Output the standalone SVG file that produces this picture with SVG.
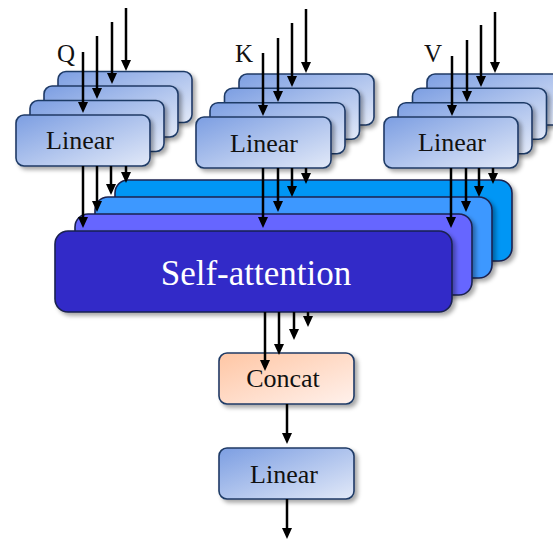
<svg xmlns="http://www.w3.org/2000/svg" width="553" height="540" viewBox="0 0 553 540">
<defs>
<linearGradient id="gLin" x1="0" y1="0" x2="1" y2="1">
<stop offset="0" stop-color="#7c9ee2"/>
<stop offset="1" stop-color="#e2e9f8"/>
</linearGradient>
<linearGradient id="gCat" x1="0" y1="0" x2="1" y2="1">
<stop offset="0" stop-color="#ffc6a4"/>
<stop offset="1" stop-color="#fff1ec"/>
</linearGradient>
<filter id="sh" x="-10%" y="-10%" width="130%" height="140%">
<feDropShadow dx="3" dy="3" stdDeviation="2" flood-color="#000" flood-opacity="0.35"/>
</filter>
<marker id="ah" viewBox="0 0 11 10" markerWidth="11" markerHeight="10" refX="3" refY="5" orient="auto" markerUnits="userSpaceOnUse">
<path d="M0,0 L11,5 L0,10 z" fill="#000"/>
</marker>
</defs>
<style>
.lin{fill:url(#gLin);stroke:#1f3a66;stroke-width:1.6;filter:url(#sh)}
.cat{fill:url(#gCat);stroke:#1f3a66;stroke-width:1.6;filter:url(#sh)}
.sa{stroke:#1a2350;stroke-width:1.6;filter:url(#sh)}
.t{font-family:"Liberation Serif","Times New Roman",serif;font-size:26px;fill:#111;text-anchor:middle}
.lbl{font-family:"Liberation Serif","Times New Roman",serif;font-size:25px;fill:#111;text-anchor:middle}
.c{stroke:#000;stroke-width:2.5;fill:none;marker-end:url(#ah)}
</style>
<rect width="553" height="540" fill="#fff"/>

<g id="q-linear">
<rect class="lin" x="58" y="71.5" width="134" height="51" rx="8"/>
<rect class="lin" x="44" y="86" width="134" height="51" rx="8"/>
<rect class="lin" x="30" y="100.5" width="134" height="51" rx="8"/>
<rect class="lin" x="16" y="115" width="134" height="51" rx="8"/>
<text class="t" x="80" y="149">Linear</text>
</g>
<g id="k-linear">
<rect class="lin" x="239" y="74" width="135" height="51" rx="8"/>
<rect class="lin" x="224.5" y="88.3" width="135" height="51" rx="8"/>
<rect class="lin" x="210" y="102.7" width="135" height="51" rx="8"/>
<rect class="lin" x="196" y="117" width="135" height="51" rx="8"/>
<text class="t" x="264" y="152">Linear</text>
</g>
<g id="v-linear">
<rect class="lin" x="427" y="74" width="134" height="51" rx="8"/>
<rect class="lin" x="412.5" y="88.3" width="134" height="51" rx="8"/>
<rect class="lin" x="398" y="102.7" width="134" height="51" rx="8"/>
<rect class="lin" x="384" y="117" width="134" height="51" rx="8"/>
<text class="t" x="452" y="151">Linear</text>
</g>
<g id="labels">
<text class="lbl" x="66" y="62">Q</text>
<text class="lbl" x="244" y="62">K</text>
<text class="lbl" x="433" y="62">V</text>
</g>

<g id="self-attention">
<rect class="sa" x="115" y="180" width="397" height="81" rx="13" fill="#0096f5"/>
<rect class="sa" x="95" y="197" width="397" height="81" rx="13" fill="#3d98ff"/>
<rect class="sa" x="75" y="214" width="397" height="81" rx="13" fill="#6666ff"/>
<rect class="sa" x="55" y="231" width="397" height="81" rx="13" fill="#3029c8"/>
<text x="256" y="285" font-family="&quot;Liberation Serif&quot;,&quot;Times New Roman&quot;,serif" font-size="35" fill="#fff" text-anchor="middle">Self-attention</text>
</g>

<g id="concat">
<rect class="cat" x="219" y="353" width="135" height="51" rx="8"/>
<text class="t" x="283" y="387">Concat</text>
</g>
<g id="out-linear">
<rect class="lin" x="219" y="448" width="135" height="51" rx="8"/>
<text class="t" x="284" y="483">Linear</text>
</g>

<g id="connectors">
<path class="c" d="M83,52 V105"/>
<path class="c" d="M97,36 V91"/>
<path class="c" d="M112,22 V76"/>
<path class="c" d="M126,8 V63"/>
<path class="c" d="M263,53 V108"/>
<path class="c" d="M278,38 V94"/>
<path class="c" d="M292,23 V79"/>
<path class="c" d="M306,9 V65"/>
<path class="c" d="M452,56 V108"/>
<path class="c" d="M467,40 V94"/>
<path class="c" d="M481,25 V79"/>
<path class="c" d="M495,12 V65"/>

<path class="c" d="M83,166 V220"/>
<path class="c" d="M97,166 V204"/>
<path class="c" d="M111,166 V187"/>
<path class="c" d="M126,166 V175"/>
<path class="c" d="M263,168 V220"/>
<path class="c" d="M278,168 V204"/>
<path class="c" d="M292,168 V189"/>
<path class="c" d="M306,168 V176"/>
<path class="c" d="M451,168 V220"/>
<path class="c" d="M466,168 V204"/>
<path class="c" d="M479,168 V189"/>
<path class="c" d="M493,168 V176"/>

<path class="c" d="M265,312 V363"/>
<path class="c" d="M279,312 V347"/>
<path class="c" d="M294,312 V332"/>
<path class="c" d="M308,312 V319"/>
<path class="c" d="M287,404 V436"/>
<path class="c" d="M287,499 V531"/>
</g>
</svg>
